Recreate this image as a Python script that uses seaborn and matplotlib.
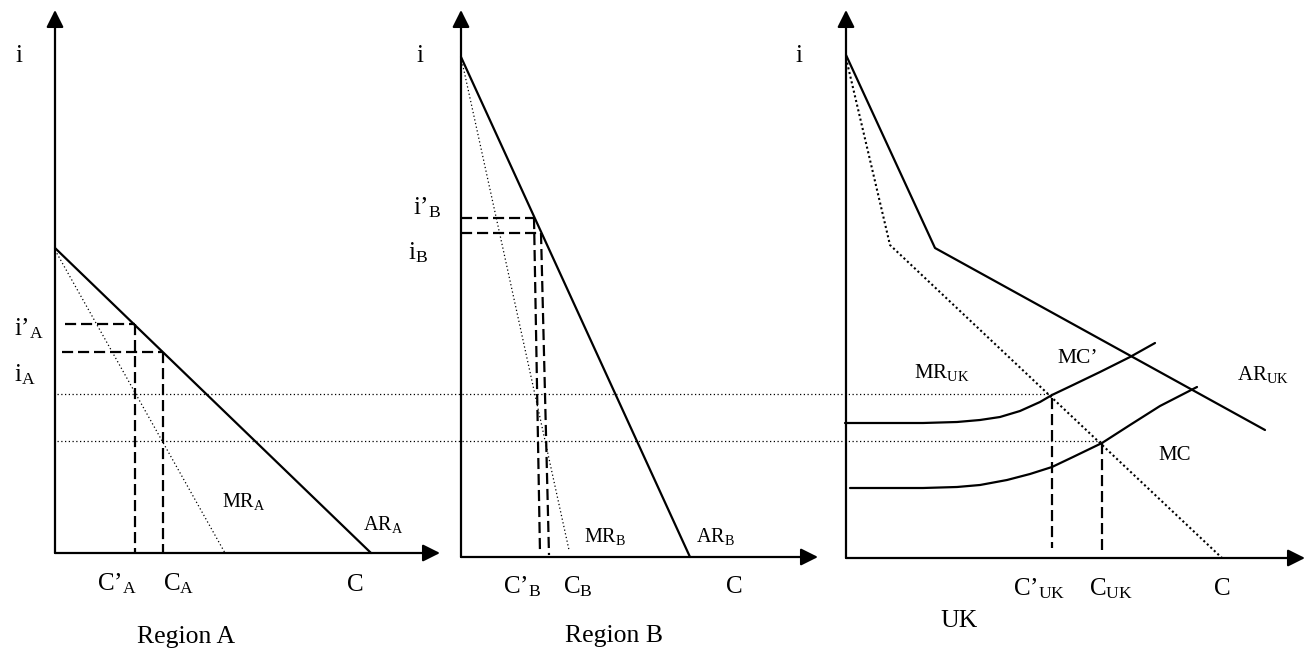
import matplotlib
matplotlib.use("Agg")
import matplotlib.pyplot as plt
import seaborn as sns

# Diagram coordinates (pixels, y down)
# axes: origin and arrow tips for Region A, Region B, UK
axis_ox = [55, 461, 846]
axis_oy = [553, 557, 558]
axis_ytop = [10, 10, 10]
axis_xend = [440, 818, 1305]

# Region A demand curves
ar_a_x = [55, 371]
ar_a_y = [248, 553]
mr_a_x = [55, 225]
mr_a_y = [250, 553]

# Region B demand curves
ar_b_x = [461, 690]
ar_b_y = [57, 557]
mr_b_x = [461, 569]
mr_b_y = [57, 550]

# UK kinked demand and marginal revenue
ar_uk_x = [846, 935, 1265]
ar_uk_y = [55, 248, 430]
mr_uk_x = [846, 890, 1222]
mr_uk_y = [58, 245, 558]

# UK marginal cost curves
mc2_x = [845, 890, 923, 957, 980, 1000, 1020, 1040, 1052, 1073, 1100, 1130, 1155]
mc2_y = [423, 423, 423, 422, 420, 417, 411, 402, 395, 385, 372, 357, 343]
mc_x = [850, 890, 923, 957, 980, 1007, 1030, 1052, 1073, 1102, 1130, 1160, 1197]
mc_y = [488, 488, 488, 487, 485, 480, 474, 467, 457, 443, 425, 406, 387]

# dashed guide lines (x0, y0, x1, y1)
dashed = [
    (65, 324, 135, 324), (135, 324, 135, 553),
    (62, 352, 163, 352), (163, 352, 163, 553),
    (461, 218, 535, 218), (534, 218, 540, 553),
    (461, 233, 542, 233), (541, 233, 549, 555),
    (1052, 398, 1052, 548), (1102, 443, 1102, 550),
]
# dotted horizontal lines across the panels (y, x_start, x_end)
dotted_y = [394, 441]
dotted_x0 = [57, 57]
dotted_x1 = [1052, 1102]

labels = [
    ("i", 15, 62, 18),
    ("i\u2019$_{\\mathrm{A}}$", 14, 335, 18),
    ("i$_{\\mathrm{A}}$", 14, 381, 18),
    ("MR$_{\\mathrm{A}}$", 222, 507, 14.5),
    ("AR$_{\\mathrm{A}}$", 363, 530, 14.5),
    ("C\u2019$_{\\mathrm{A}}$", 97, 590, 18),
    ("C$_{\\mathrm{A}}$", 163, 590, 18),
    ("C", 347, 591, 18),
    ("Region A", 137, 643, 18.5),
    ("i", 416, 62, 18),
    ("i\u2019$_{\\mathrm{B}}$", 413, 214, 18),
    ("i$_{\\mathrm{B}}$", 408, 259, 18),
    ("MR$_{\\mathrm{B}}$", 584, 542, 14.5),
    ("AR$_{\\mathrm{B}}$", 696, 542, 14.5),
    ("C\u2019$_{\\mathrm{B}}$", 503, 593, 18),
    ("C$_{\\mathrm{B}}$", 563, 593, 18),
    ("C", 726, 593, 18),
    ("Region B", 565, 642, 18.5),
    ("i", 795, 62, 18),
    ("MR$_{\\mathrm{UK}}$", 914, 378, 15),
    ("MC\u2019", 1057, 363, 15.5),
    ("AR$_{\\mathrm{UK}}$", 1237, 380, 15),
    ("MC", 1158, 460, 15),
    ("C\u2019$_{\\mathrm{UK}}$", 1013, 595, 18),
    ("C$_{\\mathrm{UK}}$", 1089, 595, 18),
    ("C", 1214, 595, 18),
    ("UK", 940, 627, 18.5),
]

sns.set_style("white")
plt.rcParams["font.family"] = ["Liberation Serif", "DejaVu Serif"]
plt.rcParams["mathtext.fontset"] = "custom"
plt.rcParams["mathtext.rm"] = "Liberation Serif"
plt.rcParams["mathtext.it"] = "Liberation Serif:italic"

fig = plt.figure(figsize=(13.14, 6.55), dpi=100)
ax = fig.add_axes([0, 0, 1, 1])
ax.set_xlim(0, 1314)
ax.set_ylim(655, 0)
ax.axis("off")

# axes with arrow heads
arrow = dict(arrowstyle="-|>", mutation_scale=26, lw=1.6, color="k",
             shrinkA=0, shrinkB=0)
for ox, oy, yt, xe in zip(axis_ox, axis_oy, axis_ytop, axis_xend):
    ax.annotate("", xy=(ox, yt), xytext=(ox, oy), arrowprops=arrow)
    ax.annotate("", xy=(xe, oy), xytext=(ox, oy), arrowprops=arrow)

# solid curves
for xs, ys in [(ar_a_x, ar_a_y), (ar_b_x, ar_b_y), (ar_uk_x, ar_uk_y),
               (mc2_x, mc2_y), (mc_x, mc_y)]:
    sns.lineplot(x=xs, y=ys, sort=False, estimator=None, ax=ax,
                 color="k", lw=1.6)

# marginal revenue (dotted)
for xs, ys in [(mr_a_x, mr_a_y), (mr_b_x, mr_b_y)]:
    sns.lineplot(x=xs, y=ys, sort=False, estimator=None, ax=ax,
                 color="k", lw=0.9, linestyle=(0, (1, 2)))
sns.lineplot(x=mr_uk_x, y=mr_uk_y, sort=False, estimator=None, ax=ax,
             color="k", lw=1.5, linestyle=(0, (1, 1.3)))

# dashed guides
for x0, y0, x1, y1 in dashed:
    ax.plot([x0, x1], [y0, y1], color="k", lw=1.6, linestyle=(0, (5, 2.2)))

# dotted horizontal lines
for y, x0, x1 in zip(dotted_y, dotted_x0, dotted_x1):
    ax.plot([x0, x1], [y, y], color="k", lw=0.9, linestyle=(0, (1, 2)))

for txt, x, y, size in labels:
    ax.text(x, y, txt, fontsize=size, ha="left", va="baseline", color="k")

fig.savefig("out.png", dpi=100)
